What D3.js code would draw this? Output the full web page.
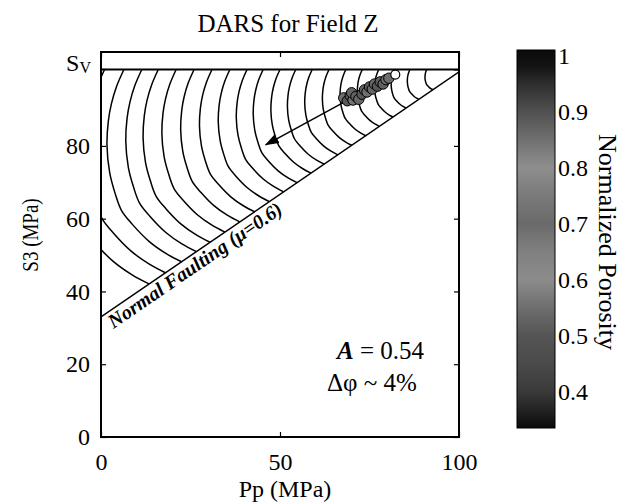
<!DOCTYPE html>
<html>
<head>
<meta charset="utf-8">
<script src="https://cdn.jsdelivr.net/npm/d3@7"></script>
<style>
body { margin: 0; background: #fff; }
text { font-family: "Liberation Serif", "Times New Roman", Times, serif; fill: #000; }
</style>
</head>
<body>
<script>
// axis ticks
var xTicks = [0, 50, 100];
var yTicks = [0, 20, 40, 60, 80];
var Sv = 101;

// normal faulting limit (Pp, S3)
var faultLine = [[0, 33], [101, 101]];

// Pp where each porosity contour meets the Sv line
var arcTopPp = [-4.5, 1.0, 6.4, 11.4, 16.0, 21.0, 26.0, 31.0, 36.0, 40.8, 45.3,
                50.0, 54.4, 59.0, 63.7, 68.4, 73.0, 77.6, 82.0, 86.3, 91.0];
// contour shape, relative to the Sv corner:
// [ (Sv-Pp)/size , (Sv-S3)/size ]
var arcShape = [[1, 0], [1.022, 0.05], [1.037, 0.10], [1.046, 0.15], [1.050, 0.22],
                [1.042, 0.30], [1.026, 0.36], [1.007, 0.41], [0.975, 0.45],
                [0.925, 0.50], [0.875, 0.535], [0.83, 0.5586]];

// field data
var pointPp  = [67.8, 68.8, 69.6, 70.4, 70.0, 71.2, 72.0, 72.9, 73.6, 74.3, 75.0, 75.8, 76.4, 77.2, 78.0, 78.8, 79.6, 80.4];
var pointS3  = [93.2, 92.4, 93.8, 92.6, 94.6, 93.6, 92.8, 94.2, 95.4, 94.8, 96.2, 95.6, 97.0, 96.4, 97.6, 97.0, 98.2, 98.6];
var pointPhi = [0.62, 0.71, 0.55, 0.80, 0.66, 0.74, 0.58, 0.69, 0.83, 0.61, 0.72, 0.77, 0.64, 0.86, 0.68, 0.75, 0.59, 0.81];
var startPoint = [82.2, 99.6];
var arrowLine = [[81.5, 99.3], [46.0, 80.3]];

// colorbar
var cbarTicks = [0.4, 0.5, 0.6, 0.7, 0.8, 0.9, 1];
var cbarRange = [0.335, 1.01];
var cbarStopVal  = [0.335, 0.36, 0.40, 0.45, 0.50, 0.55, 0.60, 0.65, 0.70, 0.75, 0.80, 0.85, 0.90, 0.95, 0.98, 1.01];
var cbarStopGray = ["#0a0a0a", "#1e1e1e", "#3a3a3a", "#4a4a4a", "#555555", "#6e6e6e", "#8c8c8c", "#808080",
                    "#6a6a6a", "#7a7a7a", "#8e8e8e", "#707070", "#505050", "#2e2e2e", "#141414", "#0a0a0a"];

var width = 631;
var height = 503;
var svg = d3.select("body")
    .append("svg")
    .attr("width", width)
    .attr("height", height);

var x = d3.scaleLinear().domain([0, 100]).range([101, 459]);
var y = d3.scaleLinear().domain([0, 105.8]).range([437, 52]);
var gray = d3.scaleLinear().domain(cbarStopVal).range(cbarStopGray);

var defs = svg.append("defs");
defs.append("clipPath").attr("id", "plotClip")
    .append("rect")
    .attr("x", x(0)).attr("y", y(105.8))
    .attr("width", x(100) - x(0)).attr("height", y(0) - y(105.8));

defs.append("marker")
    .attr("id", "arrowHead")
    .attr("markerUnits", "userSpaceOnUse")
    .attr("viewBox", "0 0 14 10")
    .attr("refX", 13).attr("refY", 5)
    .attr("markerWidth", 14).attr("markerHeight", 10)
    .attr("orient", "auto")
    .append("path")
    .attr("d", "M0,0 L14,5 L0,10 Z")
    .style("fill", "#000");

var line = d3.line()
    .x(function(d) { return x(d[0]); })
    .y(function(d) { return y(d[1]); });

var plot = svg.append("g").attr("clip-path", "url(#plotClip)");

// porosity contours
var arcLine = d3.line()
    .x(function(d) { return x(d[0]); })
    .y(function(d) { return y(d[1]); })
    .curve(d3.curveCatmullRom.alpha(0.5));

plot.selectAll(".arc")
    .data(arcTopPp)
    .enter()
    .append("path")
    .attr("class", "arc")
    .attr("d", function(top) {
        var size = Sv - top;
        return arcLine(arcShape.map(function(p) {
            return [Sv - p[0] * size, Sv - p[1] * size];
        }));
    })
    .style("fill", "none")
    .style("stroke", "#000")
    .style("stroke-width", 1.5);

// faulting line
plot.append("path")
    .attr("d", line(faultLine))
    .style("fill", "none")
    .style("stroke", "#000")
    .style("stroke-width", 1.5);

// Sv line
plot.append("line")
    .attr("x1", x(0)).attr("x2", x(100))
    .attr("y1", y(Sv)).attr("y2", y(Sv))
    .style("stroke", "#000")
    .style("stroke-width", 2);

// arrow
svg.append("path")
    .attr("d", line(arrowLine))
    .attr("marker-end", "url(#arrowHead)")
    .style("fill", "none")
    .style("stroke", "#000")
    .style("stroke-width", 1.5);

// field points
svg.selectAll(".pt")
    .data(d3.range(pointPp.length))
    .enter()
    .append("circle")
    .attr("class", "pt")
    .attr("cx", function(i) { return x(pointPp[i]); })
    .attr("cy", function(i) { return y(pointS3[i]); })
    .attr("r", 5.2)
    .style("fill", function(i) { return d3.color(gray(pointPhi[i])).darker(0.6); })
    .style("stroke", "#000")
    .style("stroke-width", 1);

svg.append("circle")
    .attr("cx", x(startPoint[0]))
    .attr("cy", y(startPoint[1]))
    .attr("r", 4.5)
    .style("fill", "#fff")
    .style("stroke", "#000")
    .style("stroke-width", 1.2);

// axes
var xAxis = svg.append("g")
    .attr("transform", "translate(0," + y(0) + ")")
    .call(d3.axisBottom(x).tickValues(xTicks).tickSizeInner(-5).tickSizeOuter(0).tickPadding(16));
var yAxis = svg.append("g")
    .attr("transform", "translate(" + x(0) + ",0)")
    .call(d3.axisLeft(y).tickValues(yTicks).tickSizeInner(-5).tickSizeOuter(0).tickPadding(11));
svg.append("g")
    .attr("transform", "translate(0," + y(105.8) + ")")
    .call(d3.axisTop(x).tickValues(xTicks).tickSizeInner(-5).tickSizeOuter(0).tickFormat(""));
svg.append("g")
    .attr("transform", "translate(" + x(100) + ",0)")
    .call(d3.axisRight(y).tickValues(yTicks.concat([Sv])).tickSizeInner(-5).tickSizeOuter(0).tickFormat(""));

svg.selectAll(".domain").remove();
svg.selectAll(".tick line").style("stroke", "#000").style("stroke-width", 1.2);
xAxis.selectAll("text").style("font-size", "24px");
yAxis.selectAll("text").style("font-size", "24px");

// Sv tick label
var svLabel = svg.append("text")
    .attr("x", x(0) - 10)
    .attr("y", y(Sv) + 2)
    .attr("text-anchor", "end")
    .style("font-size", "24px");
svLabel.append("tspan").text("S");
svLabel.append("tspan").attr("dy", 2).style("font-size", "16px").text("V");
svg.append("line")
    .attr("x1", x(0)).attr("x2", x(0) + 5)
    .attr("y1", y(Sv)).attr("y2", y(Sv))
    .style("stroke", "#000").style("stroke-width", 1.2);

// frame
svg.append("rect")
    .attr("x", x(0)).attr("y", y(105.8))
    .attr("width", x(100) - x(0)).attr("height", y(0) - y(105.8))
    .style("fill", "none")
    .style("stroke", "#000")
    .style("stroke-width", 2);

// titles
svg.append("text")
    .attr("x", 288).attr("y", 32)
    .attr("text-anchor", "middle")
    .style("font-size", "25px")
    .text("DARS for Field Z");
svg.append("text")
    .attr("x", 285).attr("y", 497)
    .attr("text-anchor", "middle")
    .style("font-size", "24px")
    .text("Pp (MPa)");
svg.append("text")
    .attr("transform", "translate(38,235) rotate(-90) scale(1,1.25)")
    .attr("text-anchor", "middle")
    .style("font-size", "19px")
    .text("S3 (MPa)");

// fault label
var ang = Math.atan2(y(faultLine[1][1]) - y(faultLine[0][1]), x(faultLine[1][0]) - x(faultLine[0][0])) * 180 / Math.PI;
var fx0 = 0.8;
var fy0 = faultLine[0][1] + (faultLine[1][1] - faultLine[0][1]) * fx0 / (faultLine[1][0] - faultLine[0][0]);
svg.append("text")
    .attr("transform", "translate(" + x(fx0) + "," + y(fy0) + ") rotate(" + ang + ")")
    .attr("x", 0).attr("y", 17)
    .style("font-size", "20px")
    .style("font-style", "italic")
    .style("font-weight", "bold")
    .text("Normal Faulting (\u03bc=0.6)");

// annotations
var aText = svg.append("text")
    .attr("x", 337).attr("y", 359)
    .style("font-size", "25px");
aText.append("tspan").style("font-style", "italic").style("font-weight", "bold").text("A");
aText.append("tspan").text(" = 0.54");
svg.append("text")
    .attr("x", 327).attr("y", 391)
    .style("font-size", "25px")
    .text("\u0394\u03c6 ~ 4%");

// colorbar
var cy = d3.scaleLinear().domain(cbarRange).range([428, 50]);
var grad = defs.append("linearGradient")
    .attr("id", "cbarGrad")
    .attr("x1", 0).attr("y1", 1).attr("x2", 0).attr("y2", 0);
grad.selectAll("stop")
    .data(d3.range(cbarStopVal.length))
    .enter()
    .append("stop")
    .attr("offset", function(i) { return (cbarStopVal[i] - cbarRange[0]) / (cbarRange[1] - cbarRange[0]); })
    .attr("stop-color", function(i) { return cbarStopGray[i]; });

svg.append("rect")
    .attr("x", 517).attr("y", cy(cbarRange[1]))
    .attr("width", 38).attr("height", cy(cbarRange[0]) - cy(cbarRange[1]))
    .style("fill", "url(#cbarGrad)")
    .style("stroke", "#000")
    .style("stroke-width", 1);

svg.selectAll(".cbTick")
    .data(cbarTicks)
    .enter()
    .append("text")
    .attr("class", "cbTick")
    .attr("x", 558)
    .attr("y", function(d) { return cy(d); })
    .attr("dy", "0.35em")
    .style("font-size", "24px")
    .text(function(d) { return d; });

svg.append("text")
    .attr("transform", "translate(599,242) rotate(90)")
    .attr("text-anchor", "middle")
    .style("font-size", "26px")
    .text("Normalized Porosity");
</script>
</body>
</html>
